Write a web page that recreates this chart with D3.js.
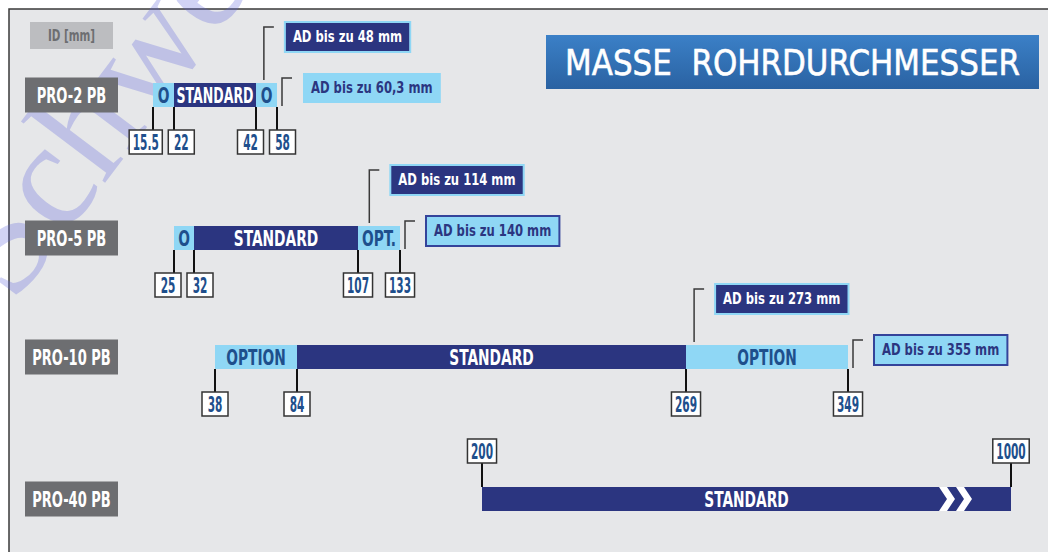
<!DOCTYPE html>
<html>
<head>
<meta charset="utf-8">
<script src="https://cdn.jsdelivr.net/npm/d3@7"></script>
<style>
body{margin:0;background:#fff;}
svg{display:block;}
text{font-family:"DejaVu Sans Condensed","DejaVu Sans",sans-serif;font-weight:bold;}
</style>
</head>
<body>
<svg width="1048" height="552"></svg>
<script>
// data
var models = ["PRO-2 PB", "PRO-5 PB", "PRO-10 PB", "PRO-40 PB"];
var stops = [[15.5, 22, 42, 58], [25, 32, 107, 133], [38, 84, 269, 349], [200, 1000]];
var segLabels = [["O", "STANDARD", "O"], ["O", "STANDARD", "OPT."], ["OPTION", "STANDARD", "OPTION"], ["STANDARD"]];
var segTypes = [["opt", "std", "opt"], ["opt", "std", "opt"], ["opt", "std", "opt"], ["std"]];
var adStandard = [48, 114, 273, null];
var adOption = [60.3, 140, 355, null];
var title = "MASSE  ROHRDURCHMESSER";
var unitLabel = "ID [mm]";

// layout
var rowY = [95, 238, 357, 499];
var rowRange = [[153, 174, 256, 277], [174, 194, 358, 400], [215, 297, 686, 848], [482, 1011]];
var labelsAbove = [false, false, false, true];
var optBorder = [false, true, true];
var barH = 24;

var navy = "#2b3580", light = "#8fd7f5", ink = "#1e4f8c", grey = "#6d6e71";

var svg = d3.select("svg");
var deLocale = d3.formatLocale({decimal: ",", thousands: ".", grouping: [3], currency: ["", " €"]});
var fmtAD = deLocale.format("~f");
var fmtTick = d3.format("~f");

// squeeze text horizontally around its anchor, returns drawn width
function squeeze(t, k, maxW) {
    var node = t.node();
    var w = node.getComputedTextLength();
    var s = k;
    if (maxW && w * s > maxW) s = maxW / w;
    var x = +t.attr("x"), y = +t.attr("y");
    t.attr("x", 0).attr("y", 0).attr("transform", "translate(" + x + "," + y + ") scale(" + s + ",1)");
    return w * s;
}

// panel
svg.append("rect").attr("x", 9).attr("y", 9).attr("width", 1048).attr("height", 552)
    .attr("fill", "#e6e7e9").attr("stroke", "#3a3a3a").attr("stroke-width", 1.5);

// watermark (behind the marks)
svg.append("text")
    .attr("transform", "translate(13,305) rotate(-53)")
    .style("font-family", "'Liberation Serif', serif").style("font-weight", "normal")
    .attr("font-size", 150).attr("fill", "#5a62dc").attr("fill-opacity", 0.28)
    .text("Schwelm");

// unit label
svg.append("rect").attr("x", 30).attr("y", 22).attr("width", 83).attr("height", 27).attr("fill", "#bcbdc0");
squeeze(svg.append("text").attr("x", 71.5).attr("y", 35.5).attr("dy", "0.36em").attr("text-anchor", "middle")
    .attr("font-size", 16).attr("fill", grey).text(unitLabel), 0.72);

// title
var grad = svg.append("defs").append("linearGradient").attr("id", "tg").attr("x1", 0).attr("x2", 0).attr("y1", 0).attr("y2", 1);
grad.append("stop").attr("offset", "0%").attr("stop-color", "#3b80c7");
grad.append("stop").attr("offset", "100%").attr("stop-color", "#2a62a2");
svg.append("rect").attr("x", 546).attr("y", 35).attr("width", 493).attr("height", 54).attr("fill", "url(#tg)");
var titleText = svg.append("text").attr("text-anchor", "middle").attr("dy", "0.36em")
    .attr("font-size", 36).attr("fill", "#fff").attr("stroke", "#fff").attr("stroke-width", 0.6)
    .style("font-family", "'DejaVu Sans', sans-serif").style("font-weight", "normal")
    .style("white-space", "pre")
    .text(title);
titleText.attr("transform", "translate(792.5,62) scale(" + (455 / titleText.node().getComputedTextLength()) + ",1)");

models.forEach(function(model, r){
    var cy = rowY[r], top = cy - barH / 2, bottom = cy + barH / 2;
    var x = d3.scaleLinear().domain(stops[r]).range(rowRange[r]);
    var g = svg.append("g");

    // model label
    g.append("rect").attr("x", 25).attr("y", cy - 17.5).attr("width", 93).attr("height", 35).attr("fill", grey);
    squeeze(g.append("text").attr("x", 71.5).attr("y", cy).attr("dy", "0.36em").attr("text-anchor", "middle")
        .attr("font-size", 22).attr("fill", "#fff").text(model), 0.66);

    // segments
    var segs = segLabels[r].map(function(l, i){
        return {label: l, type: segTypes[r][i], a: stops[r][i], b: stops[r][i + 1]};
    });
    g.selectAll("rect.seg").data(segs).enter().append("rect").attr("class", "seg")
        .attr("x", function(d){ return x(d.a); })
        .attr("width", function(d){ return x(d.b) - x(d.a); })
        .attr("y", top).attr("height", barH)
        .attr("fill", function(d){ return d.type === "std" ? navy : light; });
    g.selectAll("text.seg").data(segs).enter().append("text").attr("class", "seg")
        .attr("x", function(d){ return (x(d.a) + x(d.b)) / 2; })
        .attr("y", cy).attr("dy", "0.36em").attr("text-anchor", "middle")
        .attr("font-size", 21)
        .attr("fill", function(d){ return d.type === "std" ? "#fff" : ink; })
        .text(function(d){ return d.label; })
        .each(function(d){
            squeeze(d3.select(this), 0.73, x(d.b) - x(d.a) - 5);
        });

    // open-ended chevrons on the biggest model
    if (labelsAbove[r]) {
        var end = x(stops[r][stops[r].length - 1]);
        [0, 1].forEach(function(i){
            var l = end - 72 + i * 17;
            g.append("path")
                .attr("d", "M" + l + "," + top + "H" + (l + 8) + "L" + (l + 16) + "," + cy + "L" + (l + 8) + "," + bottom + "H" + l + "L" + (l + 8) + "," + cy + "Z")
                .attr("fill", "#fff");
        });
    }

    // tick lines and value boxes
    var ticks = stops[r].map(function(v){ return {v: v, cx: x(v), tx: x(v)}; });
    var tickG = g.selectAll("g.tick").data(ticks).enter().append("g").attr("class", "tick");
    var boxH = 24;
    var boxTop = labelsAbove[r] ? top - 24 - boxH : bottom + 23;
    tickG.append("line")
        .attr("x1", function(d){ return d.tx; }).attr("x2", function(d){ return d.tx; })
        .attr("y1", labelsAbove[r] ? top : bottom)
        .attr("y2", labelsAbove[r] ? top - 24 : bottom + 23)
        .attr("stroke", "#111").attr("stroke-width", 2);
    var tickBox = tickG.append("rect");
    var tickText = tickG.append("text")
        .attr("dy", "0.37em").attr("text-anchor", "middle")
        .attr("font-size", 21).attr("fill", ink)
        .text(function(d){ return fmtTick(d.v); });
    tickText.each(function(d){
        d.tw = this.getComputedTextLength() * 0.56;
        d.w = Math.max(26, d.tw + 7);
    });
    // push neighbouring boxes apart
    for (var it = 0; it < 5; it++) {
        for (var i = 0; i < ticks.length - 1; i++) {
            var a = ticks[i], b = ticks[i + 1];
            var need = (a.w + b.w) / 2 + 6;
            var gap = b.cx - a.cx;
            if (gap < need) { a.cx -= (need - gap) / 2; b.cx += (need - gap) / 2; }
        }
    }
    tickText.attr("transform", function(d){ return "translate(" + d.cx + "," + (boxTop + boxH / 2) + ") scale(0.56,1)"; });
    tickBox
        .attr("x", function(d){ return d.cx - d.w / 2; }).attr("width", function(d){ return d.w; })
        .attr("y", boxTop).attr("height", boxH)
        .attr("fill", "#fff").attr("stroke", "#333").attr("stroke-width", 1.5);

    // callouts
    function callout(lx, y1, y2, bx, by, txt, dark, border) {
        g.append("path")
            .attr("d", "M" + lx + "," + y2 + "V" + y1 + "H" + (lx + 10))
            .attr("fill", "none").attr("stroke", "#3a3a3a").attr("stroke-width", 1.5);
        var box = g.append("rect");
        var t = g.append("text").attr("x", bx + 8).attr("y", by + 15).attr("dy", "0.36em")
            .attr("font-size", 15).attr("fill", dark ? "#fff" : navy).text(txt);
        var w = squeeze(t, 0.86) + 16;
        box.attr("x", bx).attr("y", by).attr("width", w).attr("height", 30)
            .attr("fill", dark ? navy : light)
            .attr("stroke", dark ? light : (border ? "#34439a" : "none")).attr("stroke-width", 2);
    }
    if (adStandard[r] != null) {
        var lx = x(adStandard[r]);
        callout(lx, top - 56, top - 3, lx + 21, top - 61, "AD bis zu " + fmtAD(adStandard[r]) + " mm", true, true);
    }
    if (adOption[r] != null) {
        var ox = x(stops[r][stops[r].length - 1]) + 5;
        callout(ox, top - 5, bottom - 1, ox + 21, cy - 22, "AD bis zu " + fmtAD(adOption[r]) + " mm", false, optBorder[r]);
    }
});
</script>
</body>
</html>
